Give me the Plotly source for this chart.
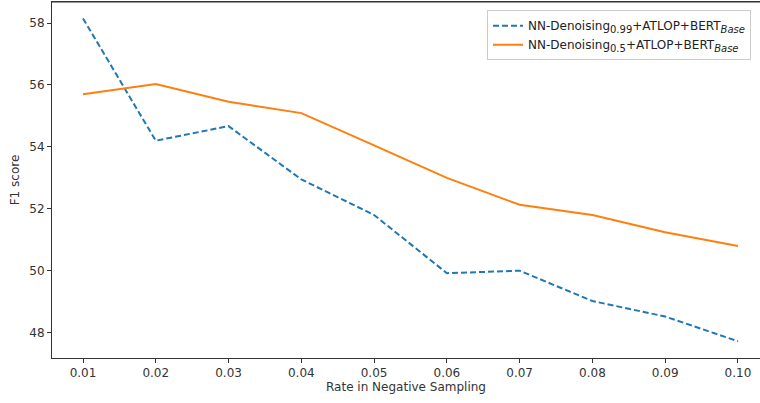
import plotly.graph_objects as go

rates = [0.01, 0.02, 0.03, 0.04, 0.05, 0.06, 0.07, 0.08, 0.09, 0.10]
f1_099 = [58.15, 54.2, 54.67, 52.95, 51.8, 49.92, 50.0, 49.02, 48.52, 47.72]
f1_05 = [55.7, 56.03, 55.46, 55.09, 54.05, 53.0, 52.13, 51.8, 51.24, 50.8]
x_ticks = [0.01, 0.02, 0.03, 0.04, 0.05, 0.06, 0.07, 0.08, 0.09, 0.10]
y_ticks = [48, 50, 52, 54, 56, 58]

font = "DejaVu Sans"
SUB = '<sub><span style="font-size:10px">{}</span></sub>'
fig = go.Figure()
fig.add_trace(go.Scatter(
    x=rates, y=f1_099, mode="lines",
    name="NN-Denoising" + SUB.format("0.99") + "+ATLOP+BERT" + SUB.format("<i>Base</i>"),
    line=dict(color="#1f77b4", width=2, dash="6px,3px"),
))
fig.add_trace(go.Scatter(
    x=rates, y=f1_05, mode="lines",
    name="NN-Denoising" + SUB.format("0.5") + "+ATLOP+BERT" + SUB.format("<i>Base</i>"),
    line=dict(color="#ff7f0e", width=2),
))

axis_col = "#333333"
fig.update_layout(
    width=760, height=403,
    margin=dict(l=52, r=0, t=2, b=45, autoexpand=False),
    paper_bgcolor="white", plot_bgcolor="white",
    font=dict(family=font, size=12, color="#333333"),
    showlegend=True,
    legend=dict(
        x=(487 - 52) / 708, y=0.977, xanchor="left", yanchor="top",
        bgcolor="white", bordercolor="#cccccc", borderwidth=1,
        font=dict(family=font, size=12, color="#222222"),
        tracegroupgap=0, itemwidth=30,
    ),
    xaxis=dict(
        range=[0.00574, 0.10303], automargin=True,
        tickmode="array", tickvals=x_ticks,
        ticktext=[f"{v:.2f}" for v in x_ticks],
        showgrid=False, zeroline=False,
        showline=True, linecolor=axis_col, linewidth=1, mirror=True,
        ticks="outside", ticklen=4, tickcolor=axis_col,
        title=dict(text="Rate in Negative Sampling", standoff=3,
                   font=dict(family=font, size=12, color="#333333")),
    ),
    yaxis=dict(
        range=[47.18, 58.68], automargin=True,
        tickmode="array", tickvals=y_ticks,
        showgrid=False, zeroline=False,
        showline=True, linecolor=axis_col, linewidth=1,
        ticks="outside", ticklen=4, tickcolor=axis_col,
        title=dict(text="F1 score", standoff=7,
                   font=dict(family=font, size=12, color="#333333")),
    ),
    shapes=[dict(type="line", xref="paper", yref="paper", x0=0, x1=1, y0=1, y1=1,
                 line=dict(color=axis_col, width=1))],
)

fig.write_html("out.html", config={"displayModeBar": False},
               post_script="document.body.style.margin='0';")
